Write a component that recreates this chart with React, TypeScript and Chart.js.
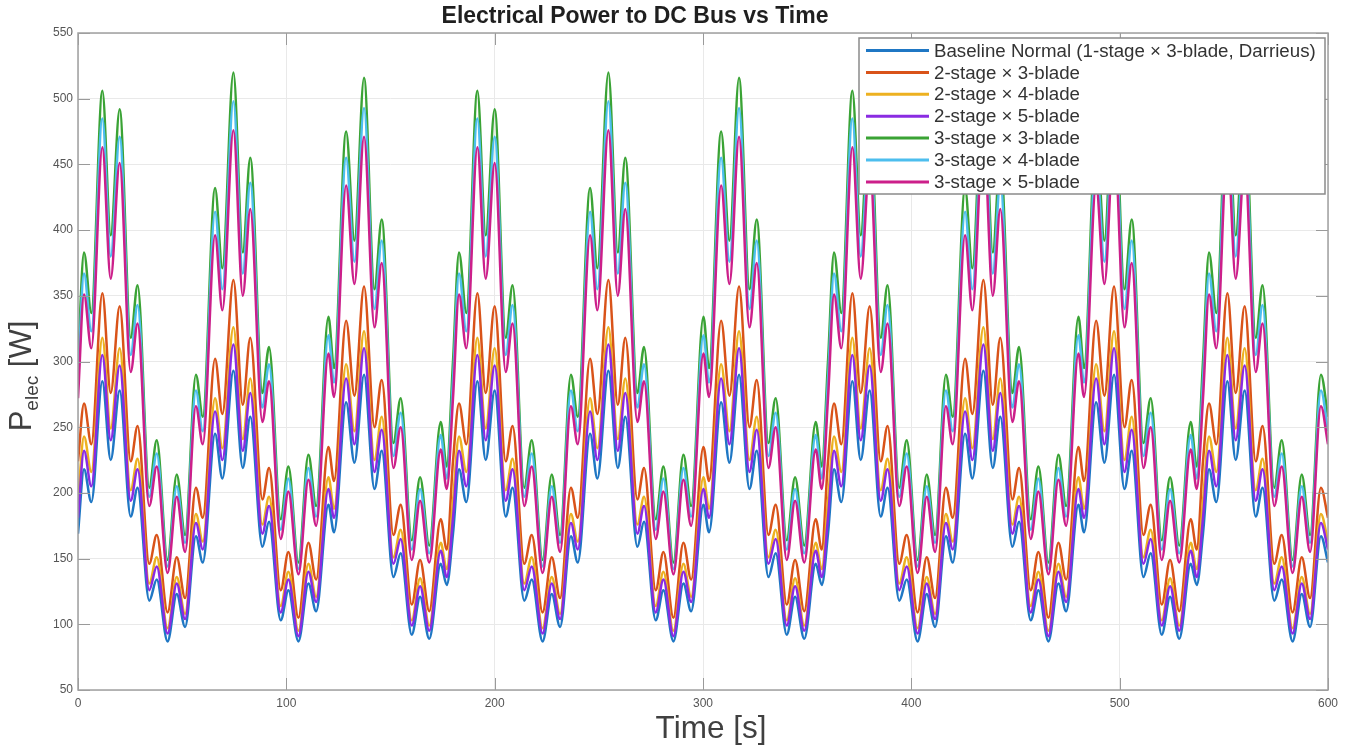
import React, { useEffect, useRef } from "react";
import { Chart, registerables } from "chart.js";

Chart.register(...registerables);

// Time stamps [s] of the read-off turning points (peaks / troughs) of the curves
const times = [
  0, 2.9, 6.4, 11.7, 15.7, 20, 25.3, 28.6, 34.2, 37.8, 43, 47.4, 51.4, 56.6, 59.9, 65.8, 69.3, 74.6, 79.1, 82.7, 88.5, 91.7, 97.3, 101, 105.8, 110.6, 114.3, 120.2, 122.9, 128.7, 132.7, 137.3, 142.3, 145.8, 151.4, 154.9, 160.2, 164.2, 168.6, 174.1, 177,
  180, 182.9, 186.4, 191.7, 195.7, 200, 205.3, 208.6, 214.2, 217.8, 223, 227.4, 231.4, 236.6, 239.9, 245.8, 249.3, 254.6, 259.1, 262.7, 268.5, 271.7, 277.3, 281, 285.8, 290.6, 294.3, 300.2, 302.9, 308.7, 312.7, 317.3, 322.3, 325.8, 331.4, 334.9, 340.2, 344.2, 348.6, 354.1, 357,
  360, 362.9, 366.4, 371.7, 375.7, 380, 385.3, 388.6, 394.2, 397.8, 403, 407.4, 411.4, 416.6, 419.9, 425.8, 429.3, 434.6, 439.1, 442.7, 448.5, 451.7, 457.3, 461, 465.8, 470.6, 474.3, 480.2, 482.9, 488.7, 492.7, 497.3, 502.3, 505.8, 511.4, 514.9, 520.2, 524.2, 528.6, 534.1, 537,
  540, 542.9, 546.4, 551.7, 555.7, 560, 565.3, 568.6, 574.2, 577.8, 583, 587.4, 591.4, 596.6, 600,
];

// Baseline Normal (1-stage x 3-blade, Darrieus) [W]
const baselineNormal = [
  169, 218, 193, 285, 225, 278, 182, 204, 118, 134, 87, 123, 98, 167, 147, 245, 211, 293, 219, 258, 159, 178, 103, 126, 87, 131, 110, 191, 170, 269, 223, 290, 203, 232, 136, 154, 92, 121, 89, 146, 130,
  169, 218, 193, 285, 225, 278, 182, 204, 118, 134, 87, 123, 98, 167, 147, 245, 211, 293, 219, 258, 159, 178, 103, 126, 87, 131, 110, 191, 170, 269, 223, 290, 203, 232, 136, 154, 92, 121, 89, 146, 130,
  169, 218, 193, 285, 225, 278, 182, 204, 118, 134, 87, 123, 98, 167, 147, 245, 211, 293, 219, 258, 159, 178, 103, 126, 87, 131, 110, 191, 170, 269, 223, 290, 203, 232, 136, 154, 92, 121, 89, 146, 130,
  169, 218, 193, 285, 225, 278, 182, 204, 118, 134, 87, 123, 98, 167, 147,
];

// 2-stage x 3-blade [W]
const twoStage3Blade = [
  224, 268, 237, 352, 276, 342, 224, 251, 146, 168, 109, 151, 120, 204, 181, 302, 260, 362, 267, 318, 195, 219, 126, 155, 105, 162, 134, 235, 209, 331, 274, 357, 250, 286, 168, 191, 115, 149, 110, 180, 157,
  224, 268, 237, 352, 276, 342, 224, 251, 146, 168, 109, 151, 120, 204, 181, 302, 260, 362, 267, 318, 195, 219, 126, 155, 105, 162, 134, 235, 209, 331, 274, 357, 250, 286, 168, 191, 115, 149, 110, 180, 157,
  224, 268, 237, 352, 276, 342, 224, 251, 146, 168, 109, 151, 120, 204, 181, 302, 260, 362, 267, 318, 195, 219, 126, 155, 105, 162, 134, 235, 209, 331, 274, 357, 250, 286, 168, 191, 115, 149, 110, 180, 157,
  224, 268, 237, 352, 276, 342, 224, 251, 146, 168, 109, 151, 120, 204, 181,
];

// 2-stage x 4-blade [W]
const twoStage4Blade = [
  194, 243, 216, 318, 249, 310, 202, 226, 131, 151, 97, 136, 108, 184, 163, 272, 234, 326, 241, 287, 176, 197, 114, 140, 95, 146, 121, 212, 188, 298, 247, 323, 225, 258, 151, 172, 103, 135, 99, 162, 142,
  194, 243, 216, 318, 249, 310, 202, 226, 131, 151, 97, 136, 108, 184, 163, 272, 234, 326, 241, 287, 176, 197, 114, 140, 95, 146, 121, 212, 188, 298, 247, 323, 225, 258, 151, 172, 103, 135, 99, 162, 142,
  194, 243, 216, 318, 249, 310, 202, 226, 131, 151, 97, 136, 108, 184, 163, 272, 234, 326, 241, 287, 176, 197, 114, 140, 95, 146, 121, 212, 188, 298, 247, 323, 225, 258, 151, 172, 103, 135, 99, 162, 142,
  194, 243, 216, 318, 249, 310, 202, 226, 131, 151, 97, 136, 108, 184, 163,
];

// 2-stage x 5-blade [W]
const twoStage5Blade = [
  181, 232, 205, 305, 240, 297, 194, 218, 126, 144, 93, 131, 104, 177, 157, 262, 225, 313, 232, 276, 169, 190, 109, 134, 91, 140, 117, 203, 181, 287, 237, 310, 216, 248, 146, 165, 99, 129, 95, 156, 136,
  181, 232, 205, 305, 240, 297, 194, 218, 126, 144, 93, 131, 104, 177, 157, 262, 225, 313, 232, 276, 169, 190, 109, 134, 91, 140, 117, 203, 181, 287, 237, 310, 216, 248, 146, 165, 99, 129, 95, 156, 136,
  181, 232, 205, 305, 240, 297, 194, 218, 126, 144, 93, 131, 104, 177, 157, 262, 225, 313, 232, 276, 169, 190, 109, 134, 91, 140, 117, 203, 181, 287, 237, 310, 216, 248, 146, 165, 99, 129, 95, 156, 136,
  181, 232, 205, 305, 240, 297, 194, 218, 126, 144, 93, 131, 104, 177, 157,
];

// 3-stage x 3-blade [W]
const threeStage3Blade = [
  300, 383, 337, 506, 396, 492, 318, 358, 204, 240, 149, 214, 168, 290, 258, 432, 371, 520, 383, 455, 276, 311, 180, 220, 147, 229, 190, 334, 295, 475, 392, 516, 355, 408, 238, 272, 164, 212, 160, 254, 220,
  300, 383, 337, 506, 396, 492, 318, 358, 204, 240, 149, 214, 168, 290, 258, 432, 371, 520, 383, 455, 276, 311, 180, 220, 147, 229, 190, 334, 295, 475, 392, 516, 355, 408, 238, 272, 164, 212, 160, 254, 220,
  300, 383, 337, 506, 396, 492, 318, 358, 204, 240, 149, 214, 168, 290, 258, 432, 371, 520, 383, 455, 276, 311, 180, 220, 147, 229, 190, 334, 295, 475, 392, 516, 355, 408, 238, 272, 164, 212, 160, 254, 220,
  300, 383, 337, 506, 396, 492, 318, 358, 204, 240, 149, 214, 168, 290, 258,
];

// 3-stage x 4-blade [W]
const threeStage4Blade = [
  286, 367, 323, 485, 380, 471, 305, 343, 197, 230, 144, 205, 162, 278, 247, 414, 355, 498, 367, 436, 265, 298, 172, 211, 142, 219, 182, 320, 284, 455, 376, 493, 340, 392, 228, 261, 157, 203, 154, 244, 211,
  286, 367, 323, 485, 380, 471, 305, 343, 197, 230, 144, 205, 162, 278, 247, 414, 355, 498, 367, 436, 265, 298, 172, 211, 142, 219, 182, 320, 284, 455, 376, 493, 340, 392, 228, 261, 157, 203, 154, 244, 211,
  286, 367, 323, 485, 380, 471, 305, 343, 197, 230, 144, 205, 162, 278, 247, 414, 355, 498, 367, 436, 265, 298, 172, 211, 142, 219, 182, 320, 284, 455, 376, 493, 340, 392, 228, 261, 157, 203, 154, 244, 211,
  286, 367, 323, 485, 380, 471, 305, 343, 197, 230, 144, 205, 162, 278, 247,
];

// 3-stage x 5-blade [W]
const threeStage5Blade = [
  272, 351, 310, 463, 363, 451, 292, 329, 190, 220, 139, 197, 155, 266, 237, 396, 339, 476, 350, 416, 254, 285, 165, 201, 138, 210, 175, 306, 273, 434, 359, 471, 326, 375, 219, 250, 149, 194, 147, 233, 203,
  272, 351, 310, 463, 363, 451, 292, 329, 190, 220, 139, 197, 155, 266, 237, 396, 339, 476, 350, 416, 254, 285, 165, 201, 138, 210, 175, 306, 273, 434, 359, 471, 326, 375, 219, 250, 149, 194, 147, 233, 203,
  272, 351, 310, 463, 363, 451, 292, 329, 190, 220, 139, 197, 155, 266, 237, 396, 339, 476, 350, 416, 254, 285, 165, 201, 138, 210, 175, 306, 273, 434, 359, 471, 326, 375, 219, 250, 149, 194, 147, 233, 203,
  272, 351, 310, 463, 363, 451, 292, 329, 190, 220, 139, 197, 155, 266, 237,
];

const seriesNames = [
  "Baseline Normal (1-stage \u00d7 3-blade, Darrieus)",
  "2-stage \u00d7 3-blade",
  "2-stage \u00d7 4-blade",
  "2-stage \u00d7 5-blade",
  "3-stage \u00d7 3-blade",
  "3-stage \u00d7 4-blade",
  "3-stage \u00d7 5-blade",
];

const seriesColors = ["#1f77c4", "#d95319", "#edb120", "#8a2be2", "#3aa335", "#4dbeee", "#cc1f8a"];

const xTickValues = [0, 100, 200, 300, 400, 500, 600];
const yTickValues = [50, 100, 150, 200, 250, 300, 350, 400, 450, 500, 550];

const titleText = "Electrical Power to DC Bus vs Time";
const xAxisTitle = "Time [s]";
const yAxisMain = "P";
const yAxisSub = "elec";
const yAxisUnit = " [W]";

const FONT = "'Liberation Sans', Arial, Helvetica, sans-serif";

export default function App() {
  const ref = useRef<HTMLCanvasElement | null>(null);

  useEffect(() => {
    document.body.style.margin = "0";
    const canvas = ref.current;
    if (!canvas) return;
    const ctx = canvas.getContext("2d");
    if (!ctx) return;

    const allSeries = [
      baselineNormal,
      twoStage3Blade,
      twoStage4Blade,
      twoStage5Blade,
      threeStage3Blade,
      threeStage4Blade,
      threeStage5Blade,
    ];

    const datasets = allSeries.map((vals, i) => ({
      label: seriesNames[i],
      data: times.slice(0, vals.length).map((t, j) => ({ x: t, y: vals[j] })),
      borderColor: seriesColors[i],
      backgroundColor: seriesColors[i],
      borderWidth: 2.5,
      pointRadius: 0,
      fill: false,
      cubicInterpolationMode: "monotone" as const,
      order: allSeries.length - 1 - i,
    }));

    const decor = {
      id: "decor",
      afterDraw(chart: any) {
        const c = chart.ctx as CanvasRenderingContext2D;
        const { left, right, top, bottom } = chart.chartArea;
        const xs = chart.scales.x;
        const ys = chart.scales.y;
        c.save();

        // inward tick marks
        c.strokeStyle = "#9a9a9a";
        c.lineWidth = 1;
        const tl = 12;
        c.beginPath();
        xTickValues.forEach((v) => {
          const px = Math.round(xs.getPixelForValue(v)) + 0.5;
          c.moveTo(px, bottom);
          c.lineTo(px, bottom - tl);
          c.moveTo(px, top);
          c.lineTo(px, top + tl);
        });
        yTickValues.forEach((v) => {
          const py = Math.round(ys.getPixelForValue(v)) + 0.5;
          c.moveTo(left, py);
          c.lineTo(left + tl, py);
          c.moveTo(right, py);
          c.lineTo(right - tl, py);
        });
        c.stroke();

        // axes box
        c.strokeStyle = "#a0a0a0";
        c.lineWidth = 1.5;
        c.strokeRect(left, top, right - left, bottom - top);

        // title
        c.fillStyle = "#1f1f1f";
        c.font = `bold 23px ${FONT}`;
        c.textAlign = "center";
        c.textBaseline = "middle";
        c.fillText(titleText, 635, 17);

        // x axis title
        c.fillStyle = "#404040";
        c.font = `31.5px ${FONT}`;
        c.fillText(xAxisTitle, 711, 729);

        // y axis title (rotated, with subscript)
        c.save();
        c.translate(31, 376);
        c.rotate(-Math.PI / 2);
        c.textAlign = "left";
        c.textBaseline = "alphabetic";
        const mainFont = `31px ${FONT}`;
        const subFont = `19px ${FONT}`;
        c.font = mainFont;
        const wP = c.measureText(yAxisMain).width;
        const wU = c.measureText(yAxisUnit).width;
        c.font = subFont;
        const wS = c.measureText(yAxisSub).width;
        const total = wP + wS + wU;
        let x0 = -total / 2;
        c.font = mainFont;
        c.fillText(yAxisMain, x0, 0);
        x0 += wP;
        c.font = subFont;
        c.fillText(yAxisSub, x0, 7);
        x0 += wS;
        c.font = mainFont;
        c.fillText(yAxisUnit, x0, 0);
        c.restore();

        // legend box
        const lx = 859, ly = 38, lw = 466, lh = 156;
        c.fillStyle = "#ffffff";
        c.fillRect(lx, ly, lw, lh);
        c.strokeStyle = "#8a8a8a";
        c.lineWidth = 1.5;
        c.strokeRect(lx, ly, lw, lh);
        c.font = `18.7px ${FONT}`;
        c.textAlign = "left";
        c.textBaseline = "middle";
        seriesNames.forEach((name, i) => {
          const y = 50.5 + i * 21.9;
          c.strokeStyle = seriesColors[i];
          c.lineWidth = 3;
          c.beginPath();
          c.moveTo(866, y);
          c.lineTo(929, y);
          c.stroke();
          c.fillStyle = "#333333";
          c.fillText(name, 934, y + 1);
        });

        c.restore();
      },
    };

    const tickFont = { family: FONT, size: 12 };

    const chart = new Chart(ctx, {
      type: "line",
      data: { datasets: datasets as any },
      options: {
        responsive: false,
        animation: false,
        devicePixelRatio: 1,
        events: [],
        layout: { padding: { top: 33, right: 22, left: 0, bottom: 0 } },
        plugins: {
          legend: { display: false },
          title: { display: false },
          tooltip: { enabled: false },
        },
        scales: {
          x: {
            type: "linear",
            min: 0,
            max: 600,
            afterFit: (s: any) => {
              s.height = 58;
            },
            afterBuildTicks: (s: any) => {
              s.ticks = xTickValues.map((v) => ({ value: v }));
            },
            ticks: { color: "#555555", font: tickFont, padding: 6, maxRotation: 0, autoSkip: false },
            grid: { color: "#e9e9e9", drawTicks: false, lineWidth: 1 },
            border: { display: false },
          },
          y: {
            type: "linear",
            min: 50,
            max: 550,
            afterFit: (s: any) => {
              s.width = 78;
            },
            afterBuildTicks: (s: any) => {
              s.ticks = yTickValues.map((v) => ({ value: v }));
            },
            ticks: { color: "#555555", font: tickFont, padding: 5, autoSkip: false },
            grid: { color: "#e9e9e9", drawTicks: false, lineWidth: 1 },
            border: { display: false },
          },
        },
      },
      plugins: [decor],
    });

    return () => {
      chart.destroy();
    };
  }, []);

  return (
    <div style={{ width: 1350, height: 748, background: "#ffffff" }}>
      <canvas ref={ref} width={1350} height={748} style={{ display: "block" }} />
    </div>
  );
}
